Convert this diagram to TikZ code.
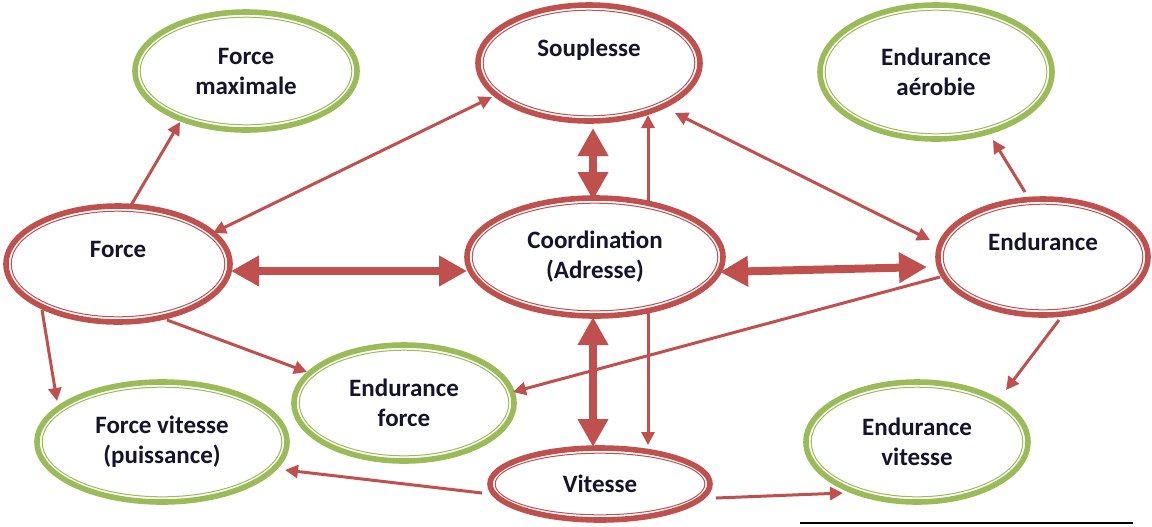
\documentclass[tikz,border=0pt]{standalone}
\usepackage{fontspec}
\setmainfont{Carlito}
\usetikzlibrary{shapes.geometric,arrows.meta,calc}
\definecolor{rd}{HTML}{C0504D}
\definecolor{gr}{HTML}{9BBB59}
\definecolor{txt}{HTML}{14142A}
\tikzset{
  bub/.style={ellipse, line width=2.8pt, fill=white, inner sep=0pt, align=center,
    font=\bfseries\fontsize{12.5}{15}\selectfont, text=txt},
  thinar/.style={rd, line width=1.5pt, -{Triangle[length=6.5pt,width=6.5pt]}},
  thinboth/.style={rd, line width=1.5pt, {Triangle[length=6.5pt,width=6.5pt]}-{Triangle[length=6.5pt,width=6.5pt]}},
  bigar/.style={rd, line width=4pt, {Triangle[length=14pt,width=14.5pt]}-{Triangle[length=14pt,width=14.5pt]}},
}
% name, x, y, rx, ry, colour, text
\newcommand{\bubble}[7]{%
  \node[bub, draw=#6, minimum width=#4pt, minimum height=#5pt] (#1) at (#2,#3) {#7};
  \draw[#6, line width=0.5pt] (#1.center) ellipse [x radius=#4*0.5pt-2.6pt, y radius=#5*0.5pt-2.6pt];
}
\begin{document}
\begin{tikzpicture}[x=0.5pt, y=-0.5pt]
\useasboundingbox (0,0) rectangle (1152,526);
\bubble{fmax}{246}{71}{111}{59}{gr}{Force\\maximale}
\bubble{soup}{589}{63}{111}{58}{rd}{Souplesse\\\mbox{}}
\bubble{eaer}{936}{72}{116}{67}{gr}{Endurance\\aérobie}
\bubble{force}{118}{264}{112}{58}{rd}{Force\\\mbox{}}
\bubble{coord}{595}{257}{128}{59}{rd}{Coordination\\(Adresse)}
\bubble{endu}{1043}{257}{105}{58}{rd}{Endurance\\\mbox{}}
\bubble{ef}{404}{403}{110}{58}{gr}{Endurance\\force}
\bubble{fv}{162}{442}{125}{60}{gr}{Force vitesse\\(puissance)}
\bubble{vit}{600}{484}{110}{36}{rd}{Vitesse}
\bubble{ev}{917}{442}{111}{60}{gr}{Endurance\\vitesse}

% thin arrows
\draw[thinar] ($(force)+(12,-57)$) -- ($(fmax)+(-66,51)$);
\draw[thinboth] ($(soup)+(-97,34)$) -- ($(force)+(95,-31)$);
\draw[thinboth] ($(soup)+(86,50)$) -- ($(endu)+(-113,-17)$);
\draw[thinar] ($(coord)+(53,-54)$) -- ($(soup)+(59,52)$);
\draw[thinar] ($(coord)+(53,55)$) -- ($(vit)+(48,-39)$);
\draw[thinar] ($(endu)+(-18,-65)$) -- ($(eaer)+(57,68)$);
\draw[thinar] ($(force)+(-76,46)$) -- ($(fv)+(-105,-41)$);
\draw[thinar] ($(force)+(49,56)$) -- ($(ef)+(-97,-31)$);
\draw[thinar] ($(endu)+(-103,20)$) -- ($(ef)+(109,-11)$);
\draw[thinar] ($(endu)+(16,63)$) -- ($(ev)+(89,-52)$);
\draw[thinar] ($(vit)+(-118,9)$) -- ($(fv)+(123,28)$);
\draw[thinar] ($(vit)+(116,14)$) -- ($(ev)+(-74,51)$);

% big double arrows
\draw[bigar] ($(force)+(113,7)$) -- ($(coord)+(-128,14)$);
\draw[bigar] ($(coord)+(125,15)$) -- ($(endu)+(-116,10)$);
\draw[bigar] ($(soup)+(4,65)$) -- ($(coord)+(-2,-57)$);
\draw[bigar] ($(coord)+(-2,60)$) -- ($(vit)+(-7,-37)$);

% rule at the bottom
\coordinate (ruleA) at (800,523);
\coordinate (ruleB) at (1133,523);
\draw[black, line width=1.2pt] (ruleA) -- (ruleB);
\end{tikzpicture}
\end{document}
